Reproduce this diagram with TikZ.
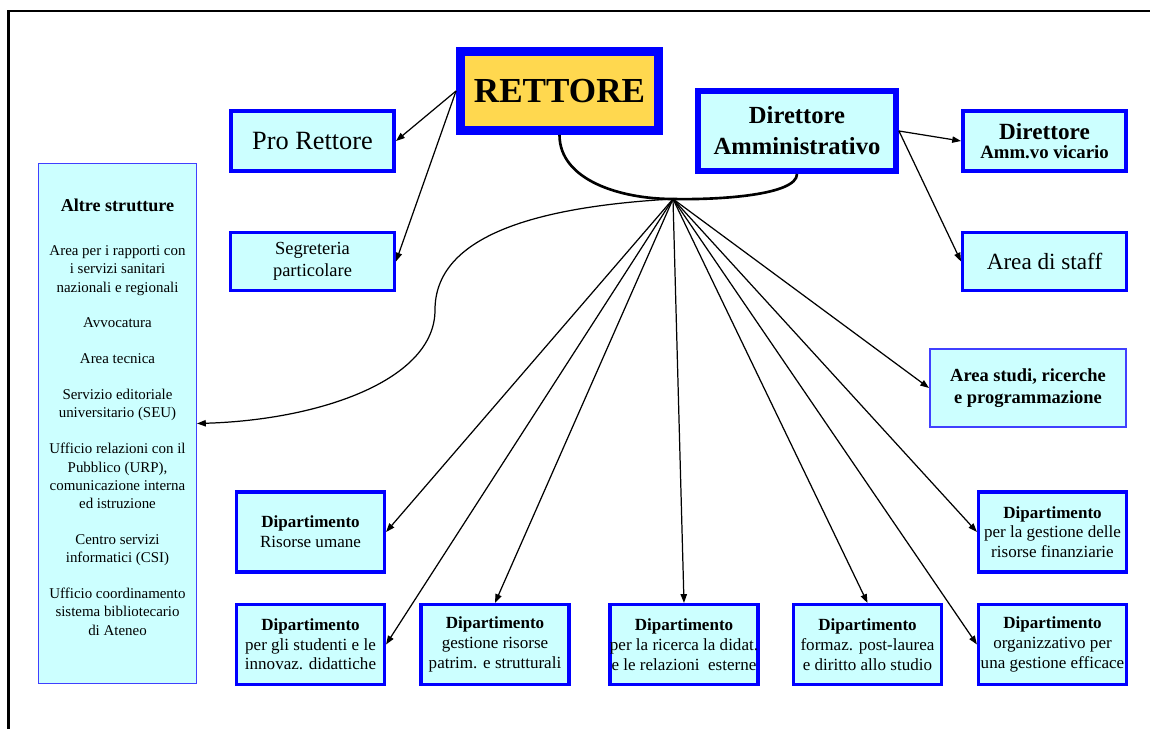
\documentclass[tikz,border=0pt]{standalone}
\usepackage{fontspec}
\setmainfont{Liberation Serif}
\usetikzlibrary{arrows.meta}
\definecolor{boxcyan}{HTML}{CCFFFF}
\definecolor{boxblue}{HTML}{0000FF}
\definecolor{lineblue}{HTML}{4040FF}
\definecolor{rettyellow}{HTML}{FFD84F}

\begin{document}
\begin{tikzpicture}[x=0.02cm, y=-0.02cm, >={Triangle[length=5pt,width=3.6pt]},
    box/.style={draw=boxblue, fill=boxcyan, align=center, inner sep=0pt},
    dipbox/.style={box, line width=1.8pt, minimum width=2.96cm, minimum height=1.6cm, font=\fontsize{9.7}{11.2}\selectfont},
    wire/.style={->, line width=0.7pt},
    bigwire/.style={line width=1.5pt}]
                    \useasboundingbox (0,0) rectangle (1150,729);
                    % cornice
                    \draw[line width=1.7pt] (1150,11) -- (8.5,11) -- (8.5,729);
                    % vertice
                    \node[box, fill=rettyellow, line width=5.1pt, minimum width=3.96cm, minimum height=1.58cm, font=\fontsize{20}{24}\selectfont\bfseries] (rettore) at (559.5,91) {RETTORE};
                    \node[box, line width=2.3pt, minimum width=3.26cm, minimum height=1.2cm, font=\fontsize{15}{18}\selectfont] (prorettore) at (312.5,141) {Pro Rettore};
                    \node[box, line width=1.7pt, minimum width=3.28cm, minimum height=1.16cm, font=\fontsize{10.5}{12.5}\selectfont] (segreteria) at (312.5,261.5) {Segreteria\\particolare};
                    \draw[wire] (rettore.west) -- (prorettore.east);
                    \draw[wire] (rettore.west) -- (segreteria.east);
                    \node[box, line width=3.4pt, minimum width=3.96cm, minimum height=1.6cm, font=\fontsize{14}{17.6}\selectfont\bfseries] (direttore) at (797,131) {Direttore\\Amministrativo};
                    \node[box, line width=2pt, minimum width=3.27cm, minimum height=1.21cm, font=\fontsize{10.7}{10.8}\selectfont\bfseries] (vicario) at (1044.5,141) {{\fontsize{13.2}{10.8}\selectfont Direttore}\\Amm.vo vicario};
                    \node[box, line width=1.7pt, minimum width=3.28cm, minimum height=1.16cm, font=\fontsize{13.2}{16}\selectfont] (staff) at (1044.5,261.5) {Area di staff};
                    \draw[wire] (direttore.east) -- (vicario.west);
                    \draw[wire] (direttore.east) -- (staff.west);
                    % snodo comune
                    \coordinate (snodo) at (673,199);
                    \draw[bigwire] (rettore.south) .. controls (559.5,180) and (620,199) .. (snodo);
                    \draw[bigwire] (direttore.south) .. controls (797,195) and (720,200) .. (snodo);
                    % altre strutture
                    \node[box, draw=lineblue, line width=0.6pt, minimum width=3.16cm, minimum height=10.4cm] (altre) at (117.5,423.5) {};
                    \node[align=center, font=\fontsize{8.5}{10.4}\selectfont] (altretesto) at (117.5,417) {{\fontsize{10.3}{12}\selectfont\bfseries Altre strutture}\\[14.8pt]
                        Area per i rapporti con\\i servizi sanitari\\nazionali e regionali\\[10pt]
                        Avvocatura\\[10pt]
                        Area tecnica\\[10pt]
                        Servizio editoriale\\universitario (SEU)\\[10pt]
                        Ufficio relazioni con il\\Pubblico (URP),\\comunicazione interna\\ed istruzione\\[10pt]
                        Centro servizi\\informatici (CSI)\\[10pt]
                        Ufficio coordinamento\\sistema bibliotecario\\di Ateneo};
                    \draw[wire] (snodo) .. controls (530,207) and (435,238) .. (435,310) .. controls (435,380) and (320,420) .. (altre.east);
                    \node[box, draw=lineblue, line width=0.85pt, minimum width=3.93cm, minimum height=1.57cm, font=\fontsize{10.5}{12.5}\selectfont\bfseries] (studi) at (1028,388) {Area studi, ricerche\\e programmazione};
                    \draw[wire] (snodo) -- (studi.west);
                    % dipartimenti
                    \node[dipbox] (risorse) at (310.5,532) {\textbf{Dipartimento}\\Risorse umane};
                    \draw[wire] (snodo) -- (risorse.east);
                    \node[dipbox] (studenti) at (310.5,644.5) {\textbf{Dipartimento}\\per gli studenti e le\\innovaz. didattiche};
                    \draw[wire] (snodo) -- (studenti.east);
                    \node[dipbox] (gestione) at (495,644.5) {\textbf{Dipartimento}\\gestione risorse\\patrim. e strutturali};
                    \draw[wire] (snodo) -- (gestione.north);
                    \node[dipbox] (ricerca) at (684,644.5) {\textbf{Dipartimento}\\per la ricerca la didat.\\e le relazioni\ \ esterne};
                    \draw[wire] (snodo) -- (ricerca.north);
                    \node[dipbox] (formaz) at (867.5,644.5) {\textbf{Dipartimento}\\formaz. post-laurea\\e diritto allo studio};
                    \draw[wire] (snodo) -- (formaz.north);
                    \node[dipbox] (organizz) at (1052.5,644.5) {\textbf{Dipartimento}\\organizzativo per\\una gestione efficace};
                    \draw[wire] (snodo) -- (organizz.west);
                    \node[dipbox] (finanze) at (1052.5,532) {\textbf{Dipartimento}\\per la gestione delle\\risorse finanziarie};
                    \draw[wire] (snodo) -- (finanze.west);
                \end{tikzpicture}
\end{document}
